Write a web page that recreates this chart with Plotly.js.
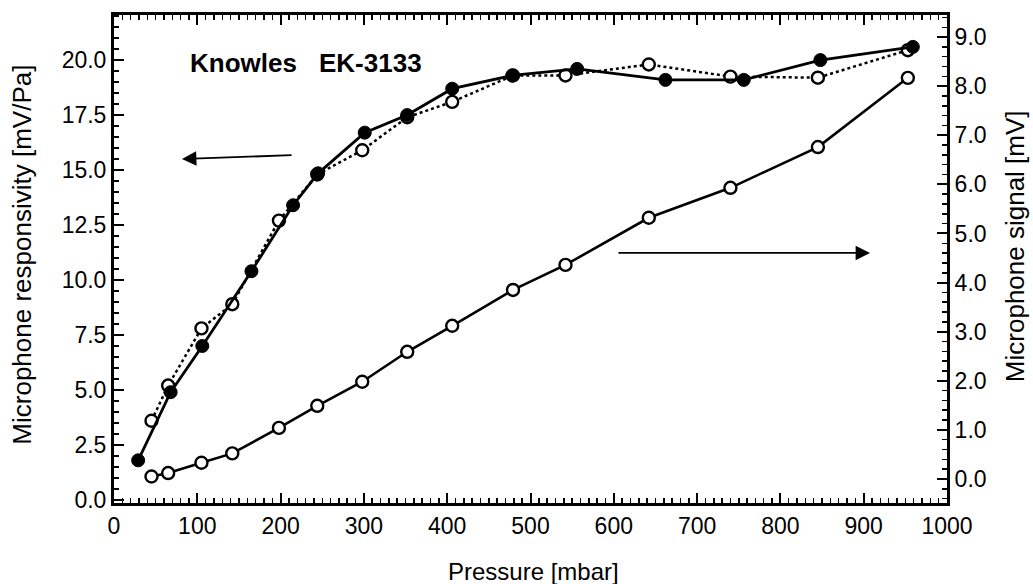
<!DOCTYPE html>
<html>
<head>
<meta charset="utf-8">
<script src="https://cdn.plot.ly/plotly-3.0.1.min.js"></script>
<style>html,body{margin:0;padding:0;background:#fff;}#chart{width:1033px;height:584px;}</style>
</head>
<body>
<div id="chart"></div>
<script>
// Responsivity measured (filled circles, solid line)
const pressureFilled = [29, 68, 106, 165, 215, 245, 301, 352, 406, 478, 556, 662, 756, 848, 959];
const responsivityFilled = [1.8, 4.9, 7.0, 10.4, 13.4, 14.85, 16.7, 17.5, 18.7, 19.3, 19.6, 19.1, 19.1, 20.0, 20.6];
// Responsivity derived (open circles, dotted line) and microphone signal (open circles, right axis)
const pressureOpen = [45, 65, 105, 142, 198, 244, 298, 352, 406, 479, 542, 642, 740, 845, 953];
const responsivityOpen = [3.6, 5.2, 7.8, 8.9, 12.7, 14.8, 15.9, 17.4, 18.1, 19.3, 19.3, 19.8, 19.25, 19.2, 20.45];
const signalOpen = [0.05, 0.12, 0.33, 0.52, 1.04, 1.49, 1.98, 2.59, 3.12, 3.85, 4.36, 5.32, 5.93, 6.76, 8.17];

const xTitle = 'Pressure [mbar]';
const yTitle = 'Microphone responsivity [mV/Pa]';
const y2Title = 'Microphone signal [mV]';
const labelLeft = 'Knowles';
const labelRight = 'EK-3133';

const FONT = "Liberation Sans, Arial, Helvetica, sans-serif";

const traces = [
  {x: pressureOpen, y: responsivityOpen, type: 'scatter', mode: 'lines+markers',
   line: {color: 'black', width: 2.5, dash: 'dot'},
   marker: {symbol: 'circle', size: 12, color: 'white', line: {color: 'black', width: 2.4}}, yaxis: 'y'},
  {x: pressureFilled, y: responsivityFilled, type: 'scatter', mode: 'lines+markers',
   line: {color: 'black', width: 2.8},
   marker: {symbol: 'circle', size: 13, color: 'black', line: {color: 'black', width: 1}}, yaxis: 'y'},
  {x: pressureOpen, y: signalOpen, type: 'scatter', mode: 'lines+markers',
   line: {color: 'black', width: 2.6},
   marker: {symbol: 'circle', size: 12, color: 'white', line: {color: 'black', width: 2.4}}, yaxis: 'y2'}
];

const layout = {
  width: 1033, height: 584,
  margin: {l: 114, r: 86, t: 15, b: 81},
  showlegend: false,
  paper_bgcolor: 'white', plot_bgcolor: 'white',
  font: {family: FONT, color: 'black', size: 23},
  xaxis: {
    range: [0, 1000], dtick: 100,
    ticks: 'inside', ticklen: 10, tickwidth: 2, tickcolor: 'black',
    showline: true, linewidth: 3, linecolor: 'black', mirror: 'ticks',
    showgrid: false, zeroline: false,
    minor: {dtick: 10, ticks: 'inside', ticklen: 5, tickwidth: 1.5, tickcolor: 'black'}
  },
  yaxis: {
    range: [-0.14, 22.05], dtick: 2.5, tickformat: '.1f',
    ticks: 'inside', ticklen: 10, tickwidth: 2, tickcolor: 'black',
    showline: true, linewidth: 3, linecolor: 'black',
    showgrid: false, zeroline: false,
    minor: {dtick: 0.5, ticks: 'inside', ticklen: 5, tickwidth: 1.5, tickcolor: 'black'}
  },
  yaxis2: {
    overlaying: 'y', side: 'right',
    range: [-0.49, 9.45], dtick: 1, tickformat: '.1f',
    ticks: 'inside', ticklen: 10, tickwidth: 2, tickcolor: 'black',
    showline: true, linewidth: 3, linecolor: 'black',
    showgrid: false, zeroline: false,
    minor: {dtick: 0.2, ticks: 'inside', ticklen: 5, tickwidth: 1.5, tickcolor: 'black'}
  },
  annotations: [
    {x: 0.504, y: -0.141, xref: 'paper', yref: 'paper', text: xTitle, showarrow: false,
     xanchor: 'center', yanchor: 'middle', font: {size: 24}},
    {x: -0.1104, y: 0.509, xref: 'paper', yref: 'paper', text: yTitle, showarrow: false, textangle: -90,
     xanchor: 'center', yanchor: 'middle', font: {size: 26}},
    {x: 1.082, y: 0.527, xref: 'paper', yref: 'paper', text: y2Title, showarrow: false, textangle: -90,
     xanchor: 'center', yanchor: 'middle', font: {size: 26}},
    {x: 88.8, y: 19.86, xref: 'x', yref: 'y', text: '<b>' + labelLeft + '</b>', showarrow: false,
     xanchor: 'left', yanchor: 'middle', font: {size: 26}},
    {x: 243.7, y: 19.86, xref: 'x', yref: 'y', text: '<b>' + labelRight + '</b>', showarrow: false,
     xanchor: 'left', yanchor: 'middle', font: {size: 26}},
    {x: 81.6, y: 15.5, xref: 'x', yref: 'y', axref: 'x', ayref: 'y', ax: 215, ay: 15.68,
     text: '', showarrow: true, arrowhead: 2, arrowsize: 1.6, arrowwidth: 1.8, arrowcolor: 'black'},
    {x: 907.6, y: 11.23, xref: 'x', yref: 'y', axref: 'x', ayref: 'y', ax: 603.8, ay: 11.23,
     text: '', showarrow: true, arrowhead: 2, arrowsize: 1.6, arrowwidth: 1.8, arrowcolor: 'black'}
  ]
};

Plotly.newPlot('chart', traces, layout, {staticPlot: true, displayModeBar: false});
</script>
</body>
</html>
